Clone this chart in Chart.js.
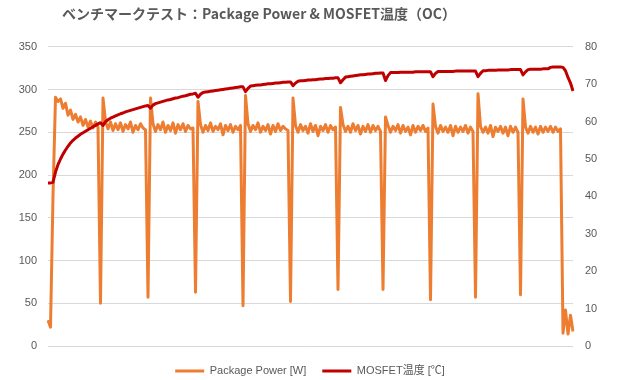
<!DOCTYPE html>
<html>
<head>
<meta charset="utf-8">
<script src="https://cdn.jsdelivr.net/npm/chart.js@4"></script>
<style>
html,body{margin:0;padding:0;background:#fff;}
#wrap{width:620px;height:380px;}
</style>
</head>
<body>
<div id="wrap"><canvas id="c" width="620" height="380"></canvas></div>
<script>
const titleText = 'ベンチマークテスト：Package Power & MOSFET温度（OC）';
const seriesNames = ['Package Power [W]', 'MOSFET温度 [℃]'];
const powerTicks = [0, 50, 100, 150, 200, 250, 300, 350];
const tempTicks = [0, 10, 20, 30, 40, 50, 60, 70, 80];

const powerW = [
  30, 22, 176, 291, 286, 289, 278, 284, 270, 276, 265, 271, 262, 268, 258, 265, 256, 263, 255, 262,
  256, 50, 290,
  263, 254, 262, 252, 260, 253, 261, 251, 259, 254, 262, 250, 258, 253, 260, 255,
  253, 57, 290,
  260, 251, 259, 253, 262, 250, 258, 252, 261, 249, 259, 253, 260, 251, 258, 254,
  255, 63, 286,
  259, 250, 258, 252, 261, 251, 257, 253, 260, 247, 258, 252, 259, 250, 257, 253,
  258, 47, 293,
  260, 251, 258, 253, 261, 250, 257, 252, 259, 248, 258, 251, 260, 252, 257, 254,
  252, 52, 290,
  258, 250, 259, 252, 257, 249, 260, 251, 258, 246, 257, 252, 259, 250, 258, 253,
  256, 66, 279,
  259, 251, 257, 250, 260, 252, 258, 248, 257, 251, 259, 250, 258, 252, 257,
  251, 66, 268,
  258, 250, 257, 252, 259, 249, 258, 251, 256, 247, 258, 250, 257, 252, 258, 251,
  255, 54, 283,
  257, 249, 258, 251, 256, 250, 258, 246, 257, 250, 256, 251, 258, 249, 256,
  251, 57, 295,
  257, 250, 256, 249, 258, 245, 256, 251, 257, 249, 256, 246, 257, 250, 256,
  250, 60, 289,
  256, 249, 257, 250, 256, 248, 257, 250, 256, 251, 257, 250, 256, 251, 254,
  15, 42, 14, 36, 17
];

const mosfetC = [
  43.6, 43.6, 43.8, 46.5, 48.5, 50.0, 51.3, 52.4, 53.4, 54.3,
  55.0, 55.6, 56.1, 56.6, 57.0, 57.4, 57.8, 58.2, 58.6, 59.0,
  59.4, 59.7, 59.0, 60.0, 60.5, 60.9, 61.2, 61.5, 61.8, 62.1,
  62.3, 62.6, 62.8, 63.0, 63.2, 63.4, 63.6, 63.8, 64.0, 64.2,
  64.3, 63.6, 64.4, 64.8, 65.0, 65.2, 65.4, 65.6, 65.8, 65.9,
  66.1, 66.3, 66.4, 66.6, 66.8, 66.9, 67.1, 67.3, 67.4, 67.6,
  66.5, 67.3, 67.8, 67.9, 68.0, 68.1, 68.2, 68.3, 68.4, 68.5,
  68.6, 68.7, 68.8, 68.9, 69.0, 69.1, 69.2, 69.3, 69.3, 68.0,
  68.9, 69.5, 69.6, 69.7, 69.8, 69.8, 69.9, 70.0, 70.1, 70.1,
  70.2, 70.3, 70.3, 70.4, 70.5, 70.5, 70.6, 70.6, 69.6, 70.3,
  70.8, 70.9, 70.9, 71.0, 71.1, 71.1, 71.2, 71.2, 71.3, 71.4,
  71.4, 71.5, 71.5, 71.6, 71.6, 71.7, 71.7, 70.4, 71.2, 71.9,
  72.0, 72.1, 72.2, 72.3, 72.4, 72.5, 72.5, 72.6, 72.7, 72.7,
  72.8, 72.9, 72.9, 73.0, 73.0, 71.0, 72.3, 73.1, 73.1, 73.1,
  73.1, 73.2, 73.2, 73.2, 73.2, 73.2, 73.2, 73.3, 73.3, 73.3,
  73.3, 73.3, 73.3, 73.3, 72.0, 72.9, 73.4, 73.4, 73.4, 73.4,
  73.4, 73.4, 73.4, 73.5, 73.5, 73.5, 73.5, 73.5, 73.5, 73.5,
  73.5, 73.5, 72.0, 72.9, 73.6, 73.6, 73.7, 73.7, 73.7, 73.7,
  73.8, 73.8, 73.8, 73.8, 73.8, 73.9, 73.9, 73.9, 73.9, 73.9,
  72.5, 73.3, 73.9, 74.0, 74.0, 74.0, 74.0, 74.0, 74.1, 74.1,
  74.1, 74.5, 74.6, 74.6, 74.6, 74.6, 74.5, 73.6, 71.8, 70.3,
  68.2
];

const samples = powerW.map((_, i) => String(i));

const TEXT = '#595959';
const FONT = "'Liberation Sans', 'Noto Sans CJK JP', sans-serif";

const titleShift = {
  id: 'titleShift',
  afterLayout(chart) {
    const t = chart.titleBlock;
    if (!t) return;
    const want = 259;
    const cur = (t.left + t.right) / 2;
    const d = want - cur;
    t.left += d; t.right += d;
  }
};

new Chart(document.getElementById('c'), {
  type: 'line',
  data: {
    labels: samples,
    datasets: [
      {
        label: seriesNames[0],
        data: powerW,
        yAxisID: 'yP',
        borderColor: '#ED7D31',
        backgroundColor: '#ED7D31',
        borderWidth: 3,
        pointRadius: 0,
        tension: 0,
        borderJoinStyle: 'round',
        order: 1
      },
      {
        label: seriesNames[1],
        data: mosfetC,
        yAxisID: 'yT',
        borderColor: '#C00000',
        backgroundColor: '#C00000',
        borderWidth: 3,
        pointRadius: 0,
        tension: 0,
        borderJoinStyle: 'round',
        order: 0
      }
    ]
  },
  options: {
    responsive: false,
    animation: false,
    devicePixelRatio: 1,
    layout: { padding: { top: 0, left: 0, right: 0, bottom: -6.5 } },
    plugins: {
      title: {
        display: true,
        text: titleText,
        color: TEXT,
        font: { family: "'Noto Sans CJK JP', sans-serif", size: 14, weight: 'bold', lineHeight: 1.2 },
        padding: { top: 5, bottom: 25 }
      },
      legend: {
        position: 'bottom',
        reverse: true,
        labels: {
          color: TEXT,
          font: { family: FONT, size: 11 },
          boxWidth: 29,
          boxHeight: 3,
          padding: 16,
          generateLabels(chart) {
            const items = Chart.defaults.plugins.legend.labels.generateLabels(chart);
            items.forEach(it => { it.lineWidth = 0; });
            return items;
          }
        }
      },
      tooltip: { enabled: false }
    },
    scales: {
      x: {
        display: true,
        grid: { display: false },
        border: { display: false },
        ticks: { display: false },
        afterFit(s) { s.height = 3.5; }
      },
      yP: {
        position: 'left',
        min: powerTicks[0],
        max: powerTicks[powerTicks.length - 1],
        afterBuildTicks(s) { s.ticks = powerTicks.map(v => ({ value: v })); },
        grid: { color: '#D9D9D9', lineWidth: 1, drawTicks: false },
        border: { display: false },
        ticks: { color: TEXT, font: { family: FONT, size: 11 }, padding: 11 },
        afterFit(s) { s.width = 48; }
      },
      yT: {
        position: 'right',
        min: tempTicks[0],
        max: tempTicks[tempTicks.length - 1],
        afterBuildTicks(s) { s.ticks = tempTicks.map(v => ({ value: v })); },
        grid: { display: false, drawTicks: false },
        border: { display: false },
        ticks: { color: TEXT, font: { family: FONT, size: 11 }, padding: 12 },
        afterFit(s) { s.width = 47; }
      }
    }
  },
  plugins: [titleShift]
});
</script>
</body>
</html>
